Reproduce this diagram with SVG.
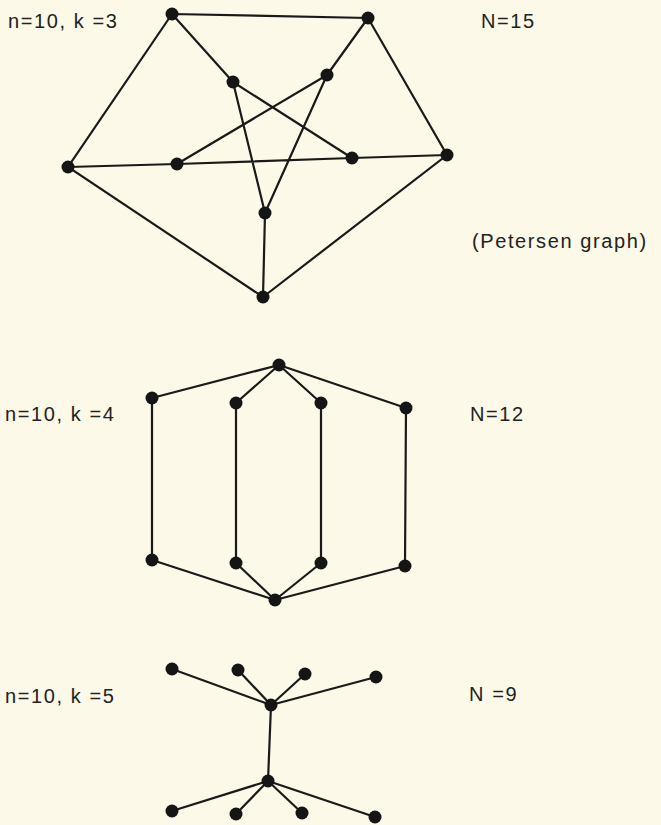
<svg xmlns="http://www.w3.org/2000/svg" width="661" height="825" viewBox="0 0 661 825">
<style>
.e{stroke:#1a1a1a;stroke-width:2.2;fill:none;stroke-linecap:round}
.n{fill:#151515}
.t{font-family:"Liberation Sans","DejaVu Sans",sans-serif;font-size:20px;letter-spacing:1.6px;fill:#222}
</style>
<rect width="661" height="825" fill="#fcf9e8"/>
<g id="labels">
<text class="t" x="8" y="28">n=10,  k =3</text>
<text class="t" x="481" y="28">N=15</text>
<text class="t" x="472" y="248">(Petersen graph)</text>
<text class="t" x="5" y="421">n=10,  k =4</text>
<text class="t" x="470" y="421">N=12</text>
<text class="t" x="5" y="703">n=10, k =5</text>
<text class="t" x="469" y="701">N =9</text>
</g>
<g id="connectors" class="e">
<path d="M172 14L368 18L447 155L263 297L68 167Z"/>
<path d="M172 14L233 82M368 18L327 75M447 155L352 158M263 297L265 213M68 167L177 164"/>
<path d="M233 82L352 158M233 82L265 213M327 75L177 164M327 75L265 213M177 164L352 158"/>
<path d="M279 365L152 398M279 365L236 403M279 365L321 403M279 365L406 408"/>
<path d="M152 398L152 560M236 403L236 563M321 403L321 563M406 408L405 566"/>
<path d="M152 560L275 600M236 563L275 600M321 563L275 600M405 566L275 600"/>
<path d="M271 705L172 669M271 705L238 670M271 705L305 674M271 705L376 677M271 705L268 781"/>
<path d="M268 781L172 811M268 781L236 814M268 781L302 813M268 781L375 817"/>
</g>
<g id="petersen" class="n">
<circle id="p1" cx="172" cy="14" r="6.5"/><circle id="p2" cx="368" cy="18" r="6.5"/>
<circle id="p3" cx="447" cy="155" r="6.5"/><circle id="p4" cx="263" cy="297" r="6.5"/>
<circle id="p5" cx="68" cy="167" r="6.5"/><circle id="p6" cx="233" cy="82" r="6.5"/>
<circle id="p7" cx="327" cy="75" r="6.5"/><circle id="p8" cx="352" cy="158" r="6.5"/>
<circle id="p9" cx="177" cy="164" r="6.5"/><circle id="p10" cx="265" cy="213" r="6.5"/>
</g>
<g id="graph2" class="n">
<circle id="q1" cx="279" cy="365" r="6.5"/><circle id="q2" cx="152" cy="398" r="6.5"/>
<circle id="q3" cx="236" cy="403" r="6.5"/><circle id="q4" cx="321" cy="403" r="6.5"/>
<circle id="q5" cx="406" cy="408" r="6.5"/><circle id="q6" cx="152" cy="560" r="6.5"/>
<circle id="q7" cx="236" cy="563" r="6.5"/><circle id="q8" cx="321" cy="563" r="6.5"/>
<circle id="q9" cx="405" cy="566" r="6.5"/><circle id="q10" cx="275" cy="600" r="6.5"/>
</g>
<g id="graph3" class="n">
<circle id="r1" cx="271" cy="705" r="6.5"/><circle id="r2" cx="172" cy="669" r="6.5"/>
<circle id="r3" cx="238" cy="670" r="6.5"/><circle id="r4" cx="305" cy="674" r="6.5"/>
<circle id="r5" cx="376" cy="677" r="6.5"/><circle id="r6" cx="268" cy="781" r="6.5"/>
<circle id="r7" cx="172" cy="811" r="6.5"/><circle id="r8" cx="236" cy="814" r="6.5"/>
<circle id="r9" cx="302" cy="813" r="6.5"/><circle id="r10" cx="375" cy="817" r="6.5"/>
</g>
</svg>
